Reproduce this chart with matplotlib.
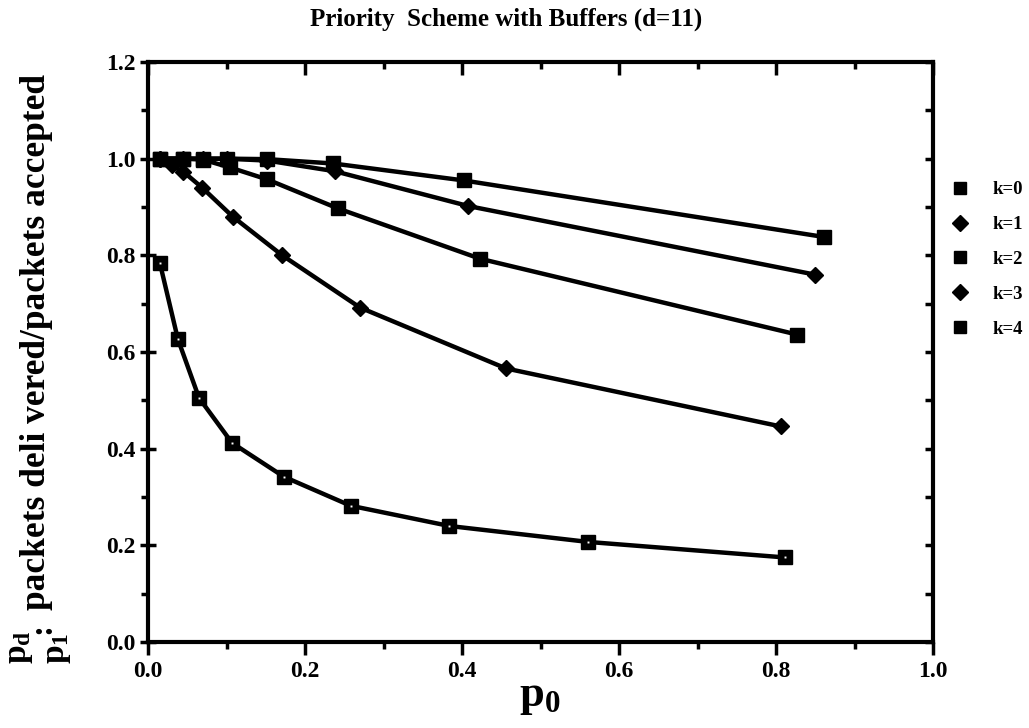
import matplotlib
matplotlib.use("Agg")
import matplotlib.pyplot as plt
from matplotlib.lines import Line2D
from matplotlib.ticker import MultipleLocator

plt.rcParams['font.family'] = ['Liberation Serif', 'DejaVu Serif']
plt.rcParams['mathtext.fontset'] = 'custom'
plt.rcParams['mathtext.rm'] = 'Liberation Serif'
plt.rcParams['mathtext.bf'] = 'Liberation Serif:bold'
plt.rcParams['mathtext.it'] = 'Liberation Serif:italic'

# ---- data ----
title = "Priority  Scheme with Buffers (d=11)"
series_labels = ["k=0", "k=1", "k=2", "k=3", "k=4"]
series_markers = ["s", "D", "s", "D", "s"]

k0_x = [0.015, 0.038, 0.065, 0.107, 0.173, 0.258, 0.384, 0.561, 0.811]
k0_y = [0.785, 0.627, 0.505, 0.412, 0.342, 0.282, 0.240, 0.207, 0.175]

k1_x = [0.015, 0.030, 0.045, 0.069, 0.108, 0.171, 0.270, 0.456, 0.806]
k1_y = [1.000, 0.986, 0.973, 0.940, 0.880, 0.800, 0.692, 0.566, 0.446]

k2_x = [0.015, 0.045, 0.070, 0.104, 0.152, 0.242, 0.423, 0.827]
k2_y = [1.000, 1.000, 0.998, 0.982, 0.957, 0.897, 0.793, 0.636]

k3_x = [0.015, 0.045, 0.070, 0.100, 0.152, 0.238, 0.408, 0.850]
k3_y = [1.000, 1.000, 1.000, 1.000, 0.996, 0.974, 0.902, 0.760]

k4_x = [0.015, 0.045, 0.070, 0.100, 0.152, 0.236, 0.402, 0.861]
k4_y = [1.000, 1.000, 1.000, 1.000, 0.999, 0.990, 0.955, 0.838]

xs = [k0_x, k1_x, k2_x, k3_x, k4_x]
ys = [k0_y, k1_y, k2_y, k3_y, k4_y]

x_ticks = [0.0, 0.2, 0.4, 0.6, 0.8, 1.0]
y_ticks = [0.0, 0.2, 0.4, 0.6, 0.8, 1.0, 1.2]

# ---- figure ----
fig = plt.figure(figsize=(10.29, 7.28), dpi=100)
ax = fig.add_axes([148/1029, 1 - 642/728, (933-148)/1029, (642-62)/728])

for i in range(5):
    ms = 10.5 if series_markers[i] == 's' else 8.5
    ax.plot(xs[i], ys[i], color='black', lw=3.2, marker=series_markers[i],
            ms=ms, mfc='black', mec='black', solid_capstyle='round',
            solid_joinstyle='round', clip_on=False, zorder=3)
# small white speck in k=0 squares
ax.plot(k0_x, k0_y, ls='none', marker='s', ms=1.4, mfc='white', mec='none', zorder=4)

ax.set_xlim(0, 1.0)
ax.set_ylim(0, 1.2)
ax.set_xticks(x_ticks)
ax.set_yticks(y_ticks)
ax.xaxis.set_minor_locator(MultipleLocator(0.1))
ax.yaxis.set_minor_locator(MultipleLocator(0.1))
ax.set_xticklabels([f"{v:.1f}" for v in x_ticks])
ax.set_yticklabels([f"{v:.1f}" for v in y_ticks])

for s in ax.spines.values():
    s.set_linewidth(3.0)

ax.tick_params(axis='x', which='major', direction='out', length=9, width=2.5,
               top=True, labelsize=17, pad=5)
ax.tick_params(axis='x', which='minor', direction='out', length=5, width=2.5, top=True)
ax.tick_params(axis='y', which='major', direction='inout', length=12, width=2.5,
               right=True, labelsize=17, pad=3)
ax.tick_params(axis='y', which='minor', direction='out', length=5, width=2.5, right=True)
# top ticks inward, right ticks outward
for t in ax.xaxis.get_major_ticks() + ax.xaxis.get_minor_ticks():
    t.tick2line.set_marker(3)
for t in ax.yaxis.get_major_ticks() + ax.yaxis.get_minor_ticks():
    t.tick2line.set_marker(0)
for t in ax.xaxis.get_major_ticks():
    t.tick2line.set_markersize(9)
for t in ax.xaxis.get_minor_ticks():
    t.tick2line.set_markersize(5)
for t in ax.yaxis.get_major_ticks() + ax.yaxis.get_minor_ticks():
    t.tick2line.set_markersize(6)

for lab in ax.get_xticklabels() + ax.get_yticklabels():
    lab.set_fontweight('bold')

# x label
fig.text(540/1029, 1 - 697/728, r"$\mathbf{p_0}$", fontsize=32, ha='center', va='center')

# y label (p_d over p_1 : packets delivered/packets accepted)
fig.text(37/1029, 1 - 610/728, "packets deli vered/packets accepted", rotation=90,
         fontsize=25.5, fontweight='bold', ha='center', va='bottom')
fig.text(20/1029, 1 - 664/728, r"$\mathbf{p_d}$", rotation=90, fontsize=24,
         ha='center', va='bottom')
fig.text(58/1029, 1 - 664/728, r"$\mathbf{p_1}$", rotation=90, fontsize=24,
         ha='center', va='bottom')
fig.text(42/1029, 1 - 628/728, ":", rotation=90, fontsize=24, fontweight='bold',
         ha='center', va='center')

# title
fig.text(506/1029, 1 - 19/728, title, fontsize=18, fontweight='bold',
         ha='center', va='center')

# legend
handles = []
for i in range(5):
    ms = 8.5 if series_markers[i] == 's' else 8
    handles.append(Line2D([], [], ls='none', marker=series_markers[i], ms=ms,
                          mfc='black', mec='black'))
leg = ax.legend(handles, series_labels, loc='upper left',
                bbox_to_anchor=(951/1029, 1 - 181/728), bbox_transform=fig.transFigure,
                frameon=False, handlelength=1.0, handletextpad=1.2, labelspacing=0.95,
                borderpad=0, borderaxespad=0,
                prop={'family': 'Liberation Serif', 'weight': 'bold', 'size': 13.5})

fig.savefig("out.png", dpi=100)
